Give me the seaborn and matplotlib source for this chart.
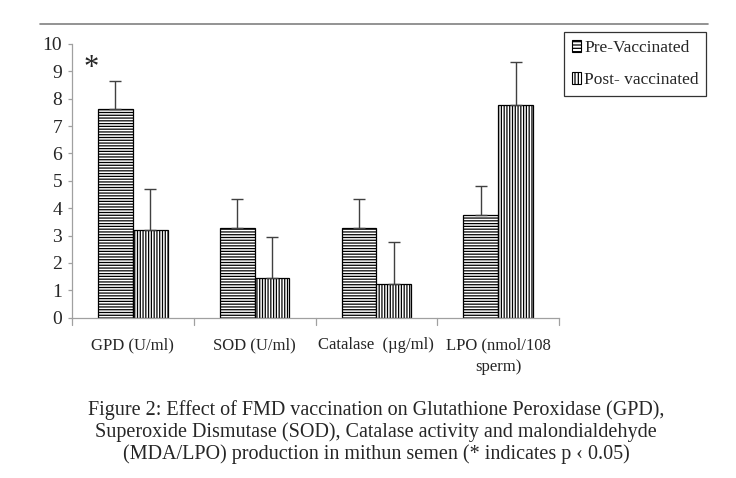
import matplotlib
matplotlib.use("Agg")
import matplotlib.pyplot as plt
import seaborn as sns
import pandas as pd
import numpy as np
from matplotlib.patches import Patch
from matplotlib.lines import Line2D

categories = ["GPD (U/ml)", "SOD (U/ml)", "Catalase  (\u00b5g/ml)", "LPO (nmol/108\nsperm)"]
groups = ["Pre-Vaccinated", "Post- vaccinated"]
pre_values = [7.62, 3.29, 3.29, 3.76]
post_values = [3.20, 1.44, 1.23, 7.77]
pre_errors = [1.04, 1.04, 1.04, 1.05]
post_errors = [1.51, 1.50, 1.52, 1.56]
yticks = list(range(0, 11))
caption = ("Figure 2: Effect of FMD vaccination on Glutathione Peroxidase (GPD),\n"
           "Superoxide Dismutase (SOD), Catalase activity and malondialdehyde\n"
           "(MDA/LPO) production in mithun semen (* indicates p \u2039 0.05)")

sns.set_theme(style="white")
plt.rcParams['font.family'] = ['Liberation Serif', 'DejaVu Serif']
plt.rcParams['hatch.linewidth'] = 0.9
plt.rcParams['hatch.color'] = 'black'

df = pd.DataFrame({
    "category": categories * 2,
    "group": [groups[0]] * 4 + [groups[1]] * 4,
    "value": pre_values + post_values,
})

fig = plt.figure(figsize=(7.36, 4.78), dpi=100)
ax = fig.add_axes([72/736, 1 - 317.7/478, (559 - 72)/736, (317.7 - 44)/478])

sns.barplot(data=df, x="category", y="value", hue="group", order=categories,
            hue_order=groups, palette=["white", "white"], errorbar=None,
            width=0.572, gap=0, edgecolor="black", linewidth=0.9, legend=False, ax=ax)

hatches = {0: "------", 1: "||||||"}
errs = [pre_errors, post_errors]
bar_containers = list(ax.containers)
for gi, cont in enumerate(bar_containers):
    xs, ys = [], []
    for bar in cont:
        bar.set_hatch(hatches[gi])
        bar.set_facecolor("white")
        bar.set_edgecolor("black")
        xs.append(bar.get_x() + bar.get_width() / 2)
        ys.append(bar.get_height())
    e = np.array(errs[gi])
    ax.errorbar(xs, ys, yerr=[np.zeros_like(e), e], fmt="none", ecolor="#404040",
                elinewidth=1.0, capsize=4, capthick=1.0, zorder=1)

ax.set_ylim(0, 10)
ax.set_xlim(-0.5, 3.5)
ax.set_yticks(yticks)
ax.set_yticklabels([str(t) for t in yticks], fontsize=14)
ax.set_xticks(range(len(categories)))
ax.set_xticklabels(categories, fontsize=12, linespacing=1.45)
ax.tick_params(axis='x', length=0, pad=14)
ax.tick_params(axis='y', left=True, length=3, width=0.9, color="#a0a0a0", pad=4)
for x in [-0.5, 0.5, 1.5, 2.5, 3.5]:
    ax.plot([x, x], [0, -0.25], color="#a0a0a0", lw=0.9, clip_on=False,
            transform=ax.transData)
for side in ["top", "right"]:
    ax.spines[side].set_visible(False)
for side in ["left", "bottom"]:
    ax.spines[side].set_color("#a0a0a0")
    ax.spines[side].set_linewidth(0.9)
ax.set_xlabel("")
ax.set_ylabel("")
ax.grid(False)

ax.text(-0.34, 9.1, "*", fontsize=22, ha="center", va="center")

handles = [Patch(facecolor="white", edgecolor="black", hatch="-----", linewidth=0.8),
           Patch(facecolor="white", edgecolor="black", hatch="|||||", linewidth=0.8)]
leg = fig.legend(handles, groups, loc="upper left", bbox_to_anchor=(564/736, 1 - 31.7/478),
                 fontsize=12.5, frameon=True, fancybox=False, handlelength=0.55,
                 handleheight=0.75, handletextpad=0.15, borderpad=0.45, labelspacing=0.9,
                 borderaxespad=0)
leg.get_frame().set_edgecolor("black")
leg.get_frame().set_linewidth(0.9)

fig.add_artist(Line2D([40/736, 708/736], [1 - 24/478, 1 - 24/478], color="#808080", lw=1.2))

fig.text(376/736, 1 - 432/478, caption, ha="center", va="center", fontsize=14.5,
         linespacing=1.15, family=['Liberation Serif'])

fig.savefig("out.png", dpi=100)
